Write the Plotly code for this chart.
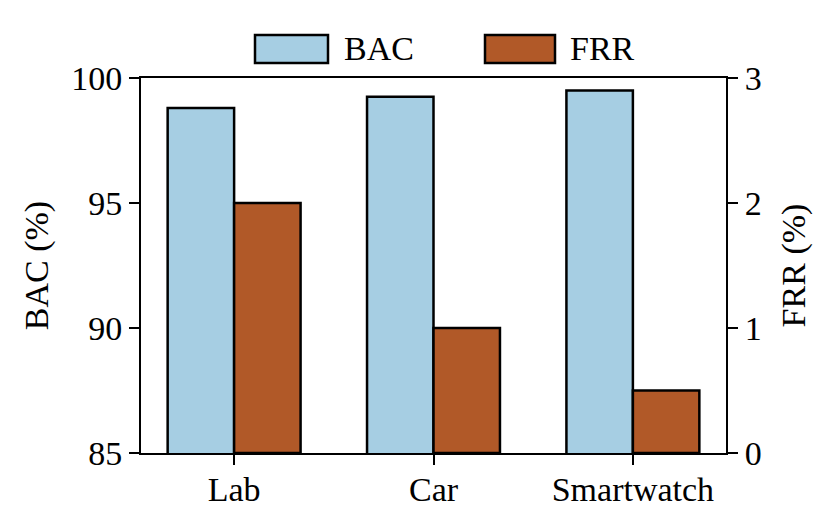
import plotly.graph_objects as go

# data
categories = ['Lab', 'Car', 'Smartwatch']
bac = [98.8, 99.25, 99.5]
frr = [2.0, 1.0, 0.5]

BAC_COLOR = '#a6cee3'
FRR_COLOR = '#b15928'
FONT = 'Liberation Serif, Times New Roman, serif'
FS = 34

fig = go.Figure()
fig.add_trace(go.Bar(x=categories, y=bac, name='BAC', offsetgroup=0,
                     marker=dict(color=BAC_COLOR, line=dict(color='black', width=2.5)),
                     yaxis='y'))
fig.add_trace(go.Bar(x=categories, y=frr, name='FRR', offsetgroup=1,
                     marker=dict(color=FRR_COLOR, line=dict(color='black', width=2.5)),
                     yaxis='y2'))

axis_common = dict(showline=True, linecolor='black', linewidth=2, ticks='outside',
                   ticklen=10, tickwidth=2, tickcolor='black', showgrid=False,
                   zeroline=False, automargin=False,
                   tickfont=dict(size=FS, color='black'))

# page body adds an 8px margin, so the figure is sized to fit inside it
fig.update_layout(
    width=824, height=521,
    margin=dict(l=133, r=106, t=70, b=76),
    paper_bgcolor='white', plot_bgcolor='white',
    font=dict(family=FONT, size=FS, color='black'),
    barmode='group', bargap=1/3, bargroupgap=0,
    showlegend=False,
    xaxis=dict(axis_common, range=[-0.467, 2.467], mirror=True, ticklabelstandoff=-5),
    yaxis=dict(axis_common, range=[85, 100], tickvals=[85, 90, 95, 100],
               title=dict(text='BAC (%)', font=dict(size=FS), standoff=12)),
    yaxis2=dict(axis_common, range=[0, 3], tickvals=[0, 1, 2, 3], overlaying='y',
                side='right', title=dict(text='FRR (%)', font=dict(size=FS), standoff=20)),
)

# custom legend above the plot (positions relative to plot area)
legend_items = [('BAC', BAC_COLOR, 255, 328, 342), ('FRR', FRR_COLOR, 485, 555, 568)]
for label, color, x0, x1, tx in legend_items:
    fig.add_shape(type='rect', xref='paper', yref='paper',
                  x0=(x0 - 141) / 585, x1=(x1 - 141) / 585,
                  y0=(452 - 63) / 374, y1=(452 - 35) / 374,
                  fillcolor=color, line=dict(color='black', width=2.5))
    fig.add_annotation(xref='paper', yref='paper', x=(tx - 141) / 585,
                       y=(452 - 49) / 374, text=label, showarrow=False,
                       xanchor='left', yanchor='middle', font=dict(size=FS))

fig.write_html('out.html')
